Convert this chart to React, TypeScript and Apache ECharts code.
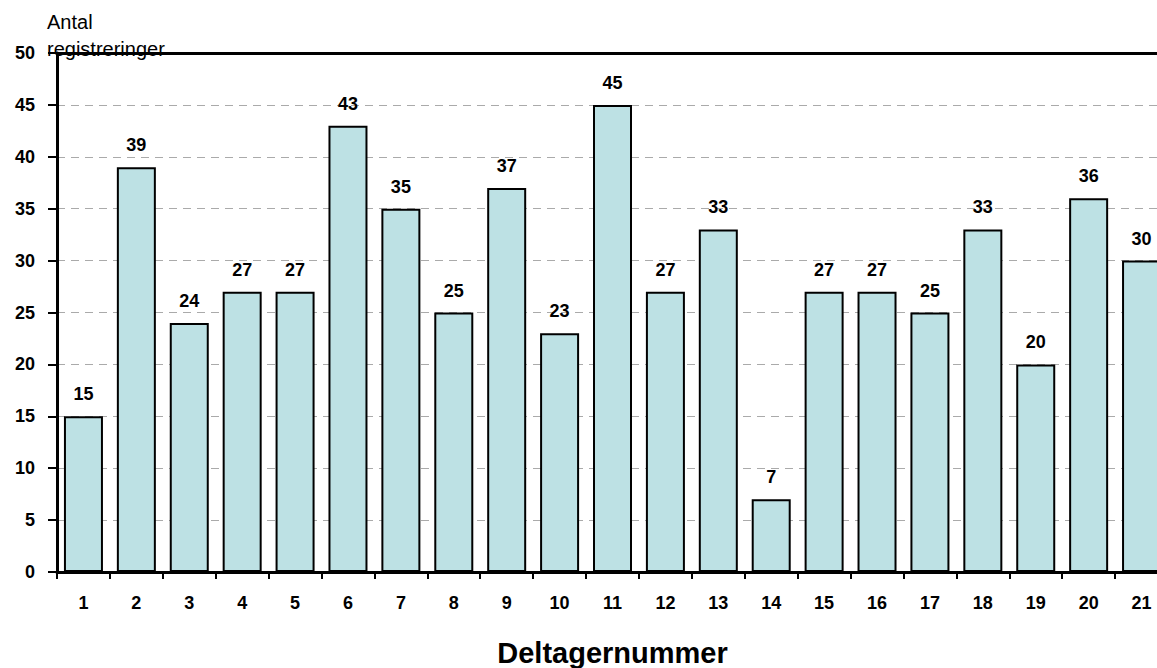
import React, { useEffect, useRef } from "react";
import * as echarts from "echarts";

const categories = ["1","2","3","4","5","6","7","8","9","10","11","12","13","14","15","16","17","18","19","20","21"];
const values = [15, 39, 24, 27, 27, 43, 35, 25, 37, 23, 45, 27, 33, 7, 27, 27, 25, 33, 20, 36, 30];
const yTitle = "Antal\nregistreringer";
const xTitle = "Deltagernummer";

const FONT = "'Liberation Sans', Arial, sans-serif";

export default function App() {
  const ref = useRef<HTMLDivElement>(null);
  useEffect(() => {
    document.body.style.margin = "0";
    const chart = echarts.init(ref.current!, null, { renderer: "svg" });
    chart.setOption({
      animation: false,
      grid: { left: 57, top: 53, width: 1111, bottom: 96, containLabel: false, outerBoundsMode: "none" },
      xAxis: [
        {
          type: "category",
          data: categories,
          position: "bottom",
          axisLine: { lineStyle: { color: "#000", width: 3 } },
          axisTick: { show: true, alignWithLabel: false, length: 7, lineStyle: { color: "#000", width: 2 } },
          axisLabel: { color: "#000", fontFamily: FONT, fontWeight: "bold", fontSize: 18, margin: 22 },
          name: xTitle,
          nameLocation: "middle",
          nameGap: 66,
          nameTextStyle: { color: "#000", fontFamily: FONT, fontWeight: "bold", fontSize: 29 },
          z: 5,
        },
        {
          type: "category",
          data: categories,
          position: "top",
          axisLine: { show: true, lineStyle: { color: "#000", width: 3 } },
          axisTick: { show: false },
          axisLabel: { show: false },
        },
      ],
      yAxis: {
        type: "value",
        min: 0,
        max: 50,
        interval: 5,
        axisLine: { show: true, lineStyle: { color: "#000", width: 3 } },
        axisTick: { show: true, length: 9, lineStyle: { color: "#000", width: 2 } },
        axisLabel: { color: "#000", fontFamily: FONT, fontWeight: "bold", fontSize: 18, margin: 22 },
        splitLine: { show: true, lineStyle: { color: "#aaa", type: [8, 6], width: 1 } },
      },
      graphic: [
        {
          type: "text",
          left: 47,
          top: 8,
          style: {
            text: yTitle,
            fill: "#000",
            font: `20px ${FONT}`,
            lineHeight: 27,
          },
          z: 10,
        },
      ],
      series: [
        {
          type: "bar",
          data: values,
          barWidth: 39,
          itemStyle: { color: "#BDE1E4", borderColor: "#000", borderWidth: 2 },
          label: {
            show: true,
            position: "top",
            distance: 13,
            color: "#000",
            fontFamily: FONT,
            fontWeight: "bold",
            fontSize: 18,
          },
        },
      ],
    });
    return () => chart.dispose();
  }, []);
  return <div ref={ref} style={{ width: 1157, height: 668 }} />;
}
